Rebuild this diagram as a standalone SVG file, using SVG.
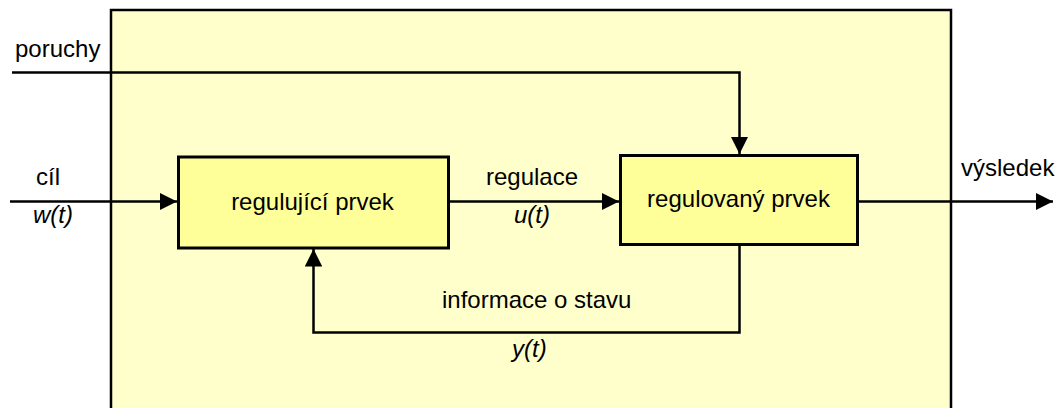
<svg xmlns="http://www.w3.org/2000/svg" width="1055" height="408" viewBox="0 0 1055 408">
  <defs>
    <marker id="arrow" viewBox="0 0 10 10" refX="10" refY="5" markerWidth="7" markerHeight="7" markerUnits="strokeWidth" orient="auto">
      <path d="M0,0 L10,5 L0,10 z" fill="#000"/>
    </marker>
    <style>
      .frame { fill: #FFFFCC; stroke: #000; stroke-width: 2.5; }
      .block { fill: #FFFF99; stroke: #000; stroke-width: 3; }
      .wire { fill: none; stroke: #000; stroke-width: 2.5; }
      .arrowed { marker-end: url(#arrow); }
      text { font-family: "Liberation Sans", Arial, sans-serif; font-size: 24px; fill: #000; }
      .it { font-style: italic; }
      .mid { text-anchor: middle; }
    </style>
  </defs>

  <rect width="1055" height="408" fill="#fff"/>

  <!-- system boundary -->
  <g id="system">
    <rect class="frame" x="111" y="10" width="840" height="410"/>
  </g>

  <!-- signal paths -->
  <g id="connectors">
    <path class="wire arrowed" d="M12,72.5 H739.5 V154"/>
    <path class="wire arrowed" d="M10,201.5 H177"/>
    <path class="wire arrowed" d="M450,201.5 H619"/>
    <path class="wire arrowed" d="M857,201.5 H1053"/>
    <path class="wire arrowed" d="M739.5,246 V332.5 H313.5 V249"/>
  </g>

  <g id="controller">
    <rect class="block" x="178.5" y="157" width="270" height="91"/>
    <text class="mid" x="312.5" y="209.5">regulující prvek</text>
  </g>

  <g id="plant">
    <rect class="block" x="620.5" y="155.5" width="237" height="89"/>
    <text class="mid" x="738.5" y="207">regulovaný prvek</text>
  </g>

  <g id="labels">
    <text x="15" y="57">poruchy</text>
    <text x="36" y="185">cíl</text>
    <text class="it" x="33" y="223">w(t)</text>
    <text x="486" y="185">regulace</text>
    <text class="it" x="514" y="223">u(t)</text>
    <text x="961" y="176">výsledek</text>
    <text x="442" y="308">informace o stavu</text>
    <text class="it" x="512" y="357">y(t)</text>
  </g>
</svg>
